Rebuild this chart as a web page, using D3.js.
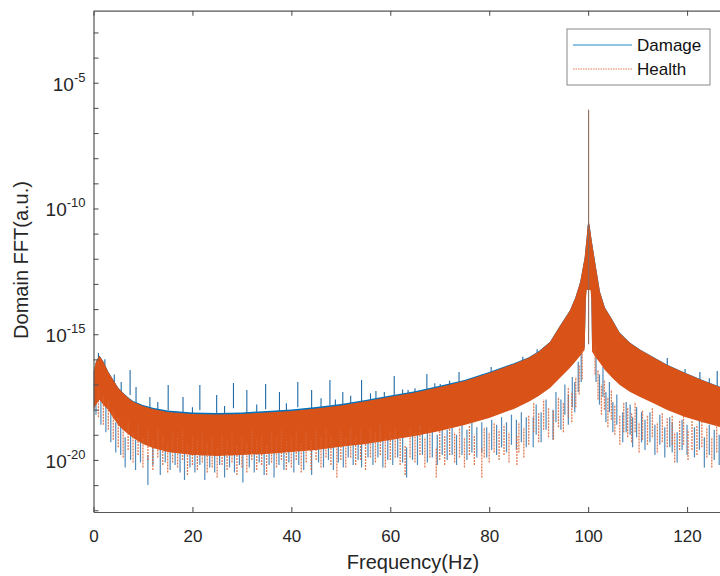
<!DOCTYPE html>
<html><head><meta charset="utf-8">
<script src="https://cdn.jsdelivr.net/npm/d3@7"></script>
<style>body{margin:0;background:#fff}svg{display:block}</style>
</head><body>
<svg id="chart" width="720" height="576"></svg>
<script>
// ---------- data (log10 of FFT amplitude) ----------
const freqs = [0,0.5,1.2,2,3,4,5,6,7,8,10,12,15,20,25,30,35,40,45,50,55,60,65,70,75,80,85,88,90,92.3,94.3,96.3,97.4,98.4,99.3,99.55,99.7,99.9,100.1,100.3,100.5,100.65,100.8,101.6,102.4,103.4,104.9,106.4,108.5,110.5,113,116,119.6,123,126.7,130];
const healthTop = [-16.50,-16.10,-15.86,-16.10,-16.50,-16.82,-17.14,-17.34,-17.53,-17.69,-17.85,-17.97,-18.09,-18.17,-18.19,-18.17,-18.11,-18.05,-17.95,-17.83,-17.67,-17.49,-17.32,-17.10,-16.86,-16.54,-16.18,-15.94,-15.70,-15.31,-14.67,-14.07,-13.56,-12.92,-11.96,-11.45,-11.17,-10.69,-10.53,-10.69,-10.97,-11.17,-11.37,-12.36,-13.32,-13.95,-14.43,-14.95,-15.35,-15.62,-15.90,-16.22,-16.54,-16.82,-17.10,-17.30];
const healthBottom = [-18.01,-17.81,-17.61,-17.81,-18.01,-18.33,-18.61,-18.81,-18.97,-19.13,-19.37,-19.52,-19.68,-19.80,-19.84,-19.80,-19.76,-19.68,-19.60,-19.48,-19.37,-19.21,-19.05,-18.85,-18.61,-18.33,-17.97,-17.69,-17.46,-17.14,-16.74,-16.34,-16.10,-15.86,-15.62,-13.64,-13.24,-13.24,-13.24,-13.24,-13.24,-13.64,-15.70,-15.94,-16.14,-16.42,-16.74,-17.02,-17.30,-17.50,-17.73,-18.01,-18.29,-18.49,-18.69,-18.85];
const damageTop = [-16.49,-16.09,-15.85,-16.09,-16.49,-16.81,-17.13,-17.33,-17.51,-17.66,-17.81,-17.92,-18.03,-18.11,-18.13,-18.11,-18.05,-17.99,-17.89,-17.78,-17.62,-17.44,-17.27,-17.05,-16.82,-16.50,-16.15,-15.92,-15.68,-15.30,-14.66,-14.06,-13.55,-12.91,-11.95,-11.44,-11.16,-10.68,-10.52,-10.68,-10.96,-11.16,-11.36,-12.35,-13.31,-13.94,-14.42,-14.94,-15.34,-15.61,-15.89,-16.21,-16.53,-16.81,-17.09,-17.29];
const damageBottom = [-17.91,-17.71,-17.51,-17.71,-17.91,-18.23,-18.51,-18.71,-18.87,-19.03,-19.27,-19.42,-19.58,-19.70,-19.74,-19.70,-19.66,-19.58,-19.50,-19.38,-19.27,-19.11,-18.95,-18.75,-18.51,-18.23,-17.87,-17.59,-17.36,-17.04,-16.64,-16.24,-16.00,-15.76,-15.52,-13.54,-13.14,-13.14,-13.14,-13.14,-13.14,-13.54,-15.60,-15.84,-16.04,-16.32,-16.64,-16.92,-17.20,-17.40,-17.63,-17.91,-18.19,-18.39,-18.59,-18.75];

const healthDips = [[1,-18.3],[2,-18.6],[3,-18.8],[4,-19.2],[5,-19.5],[6,-19.9],[7,-19.6],[8,-20.1],[9,-19.8],[10,-20.3],[11,-20.0],[12,-20.4],[13,-19.9],[14,-20.2],[15,-20.5],[16,-20.1],[17,-20.3],[18,-20.0],[19,-20.6],[20,-20.2],[21,-20.4],[22,-20.1],[23,-20.5],[24,-20.3],[25,-20.7],[26,-20.2],[27,-20.4],[28,-20.1],[29,-20.6],[30,-20.3],[31,-20.5],[32,-20.0],[33,-20.4],[34,-20.2],[35,-20.6],[36,-20.1],[37,-20.3],[38,-20.0],[39,-20.4],[40,-20.3],[41,-20.0],[42,-20.5],[43,-20.1],[44,-20.4],[45,-20.0],[46,-20.3],[47,-19.9],[48,-20.2],[49.2,-20.7],[50,-20.0],[51,-20.3],[52,-19.9],[53,-20.2],[54,-20.0],[55,-20.4],[56,-19.9],[57,-20.1],[58,-19.8],[59,-20.3],[60,-20.0],[61,-19.9],[62,-20.2],[63,-20.6],[64,-19.9],[65,-20.1],[66,-19.8],[67,-20.3],[68,-19.9],[69.3,-20.7],[70,-20.0],[71,-20.2],[72,-19.8],[73,-20.1],[74,-19.9],[75,-20.3],[76,-19.8],[77,-20.2],[78.5,-20.7],[79,-19.9],[80,-20.1],[81,-19.7],[82,-20.0],[83,-19.8],[84,-20.1],[85.6,-20.2],[86,-19.7],[87,-19.9],[88,-19.4],[89,-18.9],[90,-19.3],[91,-18.8],[92,-19.1],[93,-19.2],[94,-18.7],[95,-18.9],[96,-18.3],[96.7,-18.5],[97.5,-17.9],[98.2,-17.4],[98.8,-16.8],[101.4,-16.6],[102,-17.6],[102.7,-18.2],[103.3,-18.0],[104,-18.7],[104.7,-18.4],[105.4,-19.0],[106.4,-19.4],[107.2,-18.9],[108,-19.1],[108.8,-19.3],[109.5,-18.9],[110.3,-19.7],[111,-19.2],[112,-19.4],[113,-19.1],[114,-19.7],[115,-19.3],[116,-19.5],[117,-19.4],[117.5,-20.1],[118.5,-19.6],[119.3,-19.4],[120.2,-20.0],[121,-19.6],[122,-19.8],[123,-19.5],[124,-19.9],[125,-20.3],[126,-19.7],[127,-19.9]];

const damageDips = [[0.5,-18.2],[1.5,-18.6],[2.5,-18.9],[3.5,-19.3],[4.5,-19.7],[5.5,-19.8],[6.4,-20.3],[7.5,-20.0],[8.5,-20.4],[9.5,-20.1],[11,-21.0],[12,-20.2],[13.5,-20.6],[14.5,-20.1],[15.5,-20.4],[16.5,-20.2],[17.5,-20.5],[18.4,-20.8],[19.5,-20.3],[20.5,-20.5],[21.5,-20.2],[22.5,-20.8],[23.5,-20.3],[24.5,-20.5],[25.5,-20.2],[26.5,-20.7],[27.5,-20.3],[28.5,-20.5],[29.5,-20.2],[30.2,-20.9],[31.5,-20.3],[32.5,-20.5],[33.5,-20.1],[34.5,-20.6],[35.5,-20.2],[36.5,-20.7],[37.5,-20.2],[38.5,-20.4],[39.5,-20.1],[40.5,-20.5],[41.5,-20.2],[42.5,-20.4],[44.1,-20.6],[45.5,-20.1],[46.5,-20.3],[47.5,-20.0],[48.5,-20.4],[49.5,-20.1],[50.5,-20.3],[51.5,-19.9],[52.5,-20.2],[53.5,-20.0],[54.2,-20.3],[55.5,-19.9],[56.5,-20.2],[57.5,-19.9],[58.5,-20.3],[59.5,-20.0],[60.5,-20.2],[61.5,-19.9],[62.5,-20.1],[63.3,-20.7],[64.5,-20.0],[65.5,-20.2],[66.5,-19.8],[67.5,-20.1],[68.5,-19.9],[69.5,-20.2],[70.5,-19.8],[71.5,-20.0],[72.5,-19.8],[73.4,-20.2],[74.5,-19.8],[75.5,-20.0],[76.5,-19.7],[77.5,-19.9],[78.5,-19.7],[79.5,-19.9],[80.5,-19.6],[81.5,-19.8],[82.5,-19.5],[83.5,-19.7],[84.5,-19.4],[85.5,-19.6],[86.5,-19.3],[87.5,-19.5],[88.9,-19.5],[89.5,-19.0],[90.5,-19.3],[91.5,-18.8],[92.9,-19.2],[93.5,-18.5],[94.5,-18.8],[95.3,-18.2],[96,-18.6],[96.8,-17.9],[97.3,-18.1],[98,-17.3],[98.6,-16.9],[101.6,-16.9],[102.3,-17.8],[103,-17.5],[103.6,-18.5],[104.3,-18.1],[105,-18.9],[105.8,-18.6],[107,-19.3],[107.7,-18.9],[108.5,-19.0],[109,-19.5],[109.8,-19.1],[110.8,-19.3],[111.5,-19.6],[112.5,-19.3],[113.5,-19.8],[114.5,-19.4],[115.5,-19.9],[116.5,-19.5],[117,-19.7],[118,-20.1],[119,-19.6],[120,-19.8],[121.5,-19.9],[122.5,-19.6],[123.5,-20.3],[124.5,-19.8],[125.5,-20.0],[126.5,-20.2],[127.5,-19.9]];

const damageSpikes = [[1.0,-15.75],[2.3,-16.0],[4.2,-16.6],[5.6,-16.9],[7.4,-16.42],[8.6,-17.10],[11.4,-17.50],[13.0,-17.7],[15.1,-17.02],[18.1,-17.50],[20.0,-17.9],[21.5,-17.02],[24.9,-17.42],[26.5,-17.85],[28.3,-16.94],[31.0,-17.22],[33.0,-17.8],[34.8,-16.98],[37.6,-17.30],[39.0,-17.75],[41.3,-16.90],[44.1,-17.22],[46.0,-17.55],[47.8,-16.82],[48.9,-17.60],[50.4,-17.30],[52.0,-17.45],[54.2,-16.82],[56.0,-17.35],[57.1,-17.26],[58.8,-17.30],[60.8,-16.66],[62.5,-17.20],[63.6,-17.22],[65.0,-17.15],[67.4,-16.58],[69.0,-16.95],[70.1,-16.98],[72.0,-16.85],[73.9,-16.50],[76.7,-16.80],[78.5,-16.60],[80.4,-16.30],[83.3,-16.50],[84.8,-16.25],[86.8,-15.90],[89.7,-15.60],[110.0,-15.55],[113.1,-16.02],[116.0,-15.95],[119.6,-16.38],[122.6,-16.50],[124.5,-16.75],[126.1,-16.46]];

const peakFreq = 100.1, peakLog = -6.07, peakFootLog = -15.4;

const xTicks = [0,20,40,60,80,100,120];
const yTickExps = [-22,-21,-20,-19,-18,-17,-16,-15,-14,-13,-12,-11,-10,-9,-8,-7,-6,-5,-4,-3];
const yLabelExps = [-5,-10,-15,-20];
const seriesNames = ["Damage","Health"];
const colors = {Damage:"#0072BD", Health:"#D95319"};

// ---------- layout ----------
const svg = d3.select("#chart");
const L = 93.5, T = 10.7, B = 512, R = 736.5;
const x = d3.scaleLinear().domain([0,130]).range([L,R]);
const y = d3.scaleLog().domain([Math.pow(10,-22.07), Math.pow(10,-2.135)]).range([B,T]);
const p = v => y(Math.pow(10,v));

svg.append("defs").append("clipPath").attr("id","clip")
  .append("rect").attr("x",L).attr("y",T).attr("width",R-L).attr("height",B-T);
const g = svg.append("g").attr("clip-path","url(#clip)");

const area = (top,bot) => d3.area()
  .x((d,i)=>x(freqs[i])).y0((d,i)=>p(bot[i])).y1((d,i)=>p(top[i]))(freqs);

// damage (blue) layer
g.append("path").attr("d",area(damageTop,damageBottom)).attr("fill",colors.Damage);
g.selectAll(".ddip").data(damageDips).join("line")
  .attr("x1",d=>x(d[0])).attr("x2",d=>x(d[0]))
  .attr("y1",d=>p(d[1])).attr("y2",d=>p(d[1]+1.2))
  .attr("stroke","#3b7db3").attr("stroke-width",1.2).attr("stroke-opacity",0.9);
g.selectAll(".dspk").data(damageSpikes).join("line")
  .attr("x1",d=>x(d[0])).attr("x2",d=>x(d[0]))
  .attr("y1",d=>p(d[1])).attr("y2",d=>p(d[1]-1.0))
  .attr("stroke","#1f6aa5").attr("stroke-width",1.1);

// health (orange) layer
g.append("path").attr("d",area(healthTop,healthBottom)).attr("fill",colors.Health);
g.selectAll(".hdip").data(healthDips).join("line")
  .attr("x1",d=>x(d[0])).attr("x2",d=>x(d[0]))
  .attr("y1",d=>p(d[1])).attr("y2",d=>p(d[1]+1.2))
  .attr("stroke","#dc6332").attr("stroke-width",1.3).attr("stroke-dasharray","2,1")
  .attr("stroke-opacity",0.85);

// the 100 Hz peak
g.append("line").attr("x1",x(peakFreq)).attr("x2",x(peakFreq))
  .attr("y1",p(peakLog)).attr("y2",p(peakFootLog))
  .attr("stroke","#8c6a5c").attr("stroke-width",1.1);

// ---------- axes ----------
const axColor = "#555";
const font = "'Liberation Sans', Arial, sans-serif";
const ax = svg.append("g").attr("font-family",font);

const gx = ax.append("g").attr("transform",`translate(0,${B})`)
  .call(d3.axisBottom(x).tickValues(xTicks).tickSize(-5).tickSizeOuter(0).tickPadding(18));
const gxt = ax.append("g").attr("transform",`translate(0,${T})`)
  .call(d3.axisTop(x).tickValues(xTicks).tickSize(-5).tickSizeOuter(0).tickFormat(""));
const gy = ax.append("g").attr("transform",`translate(${L},0)`)
  .call(d3.axisLeft(y).tickValues(yTickExps.map(e=>Math.pow(10,e))).tickSize(-5).tickSizeOuter(0).tickFormat(""));
[gx,gxt,gy].forEach(s=>{
  s.select(".domain").attr("stroke",axColor).attr("stroke-width",1.2);
  s.selectAll(".tick line").attr("stroke",axColor).attr("stroke-width",1.1);
});
gx.selectAll(".tick text").attr("font-size",17).attr("fill","#262626").attr("font-family",font);

yLabelExps.forEach(e=>{
  const t = ax.append("text").attr("x",L-8).attr("y",p(e)+8)
    .attr("text-anchor","end").attr("fill","#262626").attr("font-size",19);
  t.append("tspan").text("10");
  t.append("tspan").attr("dy",-9).attr("font-size",13).text(String(e));
});

ax.append("text").attr("x",413).attr("y",569).attr("text-anchor","middle")
  .attr("font-size",20).attr("fill","#262626").text("Frequency(Hz)");
ax.append("text").attr("transform","translate(28,260) rotate(-90)").attr("text-anchor","middle")
  .attr("font-size",20).attr("fill","#262626").text("Domain FFT(a.u.)");

// ---------- legend ----------
const lg = svg.append("g").attr("font-family",font);
lg.append("rect").attr("x",567).attr("y",29).attr("width",143).attr("height",56)
  .attr("fill","#fff").attr("stroke","#888").attr("stroke-width",1);
seriesNames.forEach((n,i)=>{
  const yy = 45 + i*24;
  lg.append("line").attr("x1",573).attr("x2",632).attr("y1",yy).attr("y2",yy)
    .attr("stroke",colors[n]).attr("stroke-width",1)
    .attr("stroke-dasharray", n==="Health" ? "1.5,1" : null)
    .attr("stroke-opacity", n==="Health" ? 0.75 : 0.85);
  lg.append("text").attr("x",637).attr("y",yy+6).attr("font-size",17).attr("fill","#111").text(n);
});
</script>
</body></html>
